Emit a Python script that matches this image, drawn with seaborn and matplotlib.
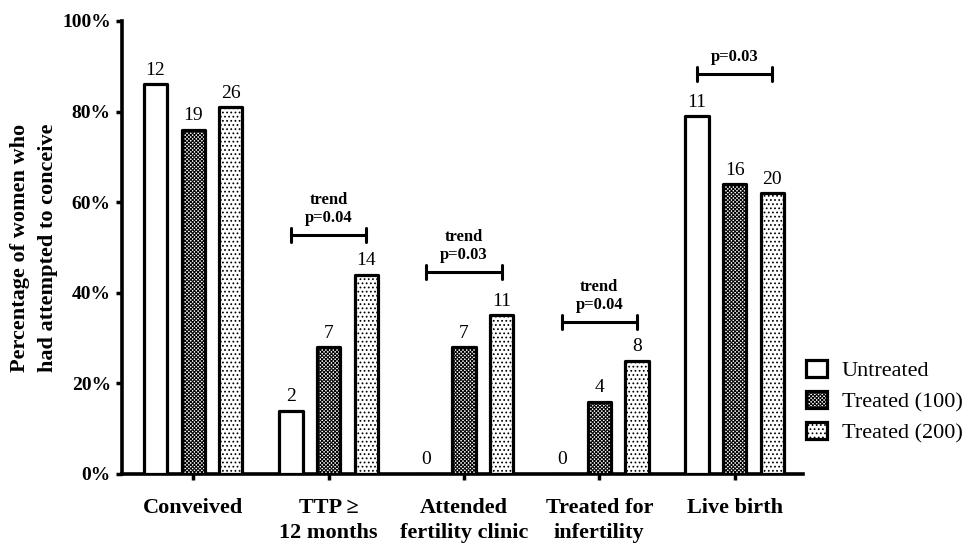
import numpy as np
import pandas as pd
import matplotlib
matplotlib.use("Agg")
import matplotlib.pyplot as plt
import seaborn as sns

# Outcome categories and treatment groups
categories = ["Conveived", "TTP \u2265\n12 months", "Attended\nfertility clinic",
              "Treated for\ninfertility", "Live birth"]
groups = ["Untreated", "Treated (100)", "Treated (200)"]

# Percentage of women in each group
pct_untreated = [86, 14, 0, 0, 79]
pct_treated100 = [76, 28, 28, 16, 64]
pct_treated200 = [81, 44, 35, 25, 62]

# Number of women behind each bar
n_untreated = [12, 2, 0, 0, 11]
n_treated100 = [19, 7, 7, 4, 16]
n_treated200 = [26, 14, 11, 8, 20]

# Significance annotations: (category index, text, bracket height in %)
sig_index = [1, 2, 3, 4]
sig_text = ["trend\np=0.04", "trend\np=0.03", "trend\np=0.04", "p=0.03"]
sig_height = [52.8, 44.6, 33.6, 88.3]

sns.set_theme(style="white")
plt.rcParams["font.family"] = ["Liberation Serif", "DejaVu Serif"]
plt.rcParams["hatch.linewidth"] = 0.75
for key in ("text.color", "axes.labelcolor", "xtick.color", "ytick.color"):
    plt.rcParams[key] = "black"

df = pd.DataFrame({
    "category": np.repeat(categories, 3),
    "group": groups * len(categories),
    "pct": np.ravel(np.column_stack([pct_untreated, pct_treated100, pct_treated200])),
})

fig = plt.figure(figsize=(9.65, 5.44), dpi=100)
ax = fig.add_axes([0.1264, 0.1287, 0.7056, 0.8327])

sns.barplot(data=df, x="category", y="pct", hue="group", order=categories,
            hue_order=groups, palette=["white"] * 3, width=0.834, gap=0.38,
            edgecolor="black", linewidth=2.3, legend=False, ax=ax,
            saturation=1, errorbar=None)

hatches = [None, "xxxxxxxxx", "...."]
counts = [n_untreated, n_treated100, n_treated200]
for cont, h, n in zip(ax.containers, hatches, counts):
    for p in cont:
        p.set_facecolor("white")
        p.set_edgecolor("black")
        p.set_linewidth(2.3)
        p.set_joinstyle("round")
        p.set_zorder(3)
        if h:
            p.set_hatch(h)
    ax.bar_label(cont, labels=[str(v) for v in n], padding=4, fontsize=14,
                 color="black")

# Significance brackets spanning untreated to Treated (200)
left_bars = ax.containers[0]
right_bars = ax.containers[2]
for idx, txt, yb in zip(sig_index, sig_text, sig_height):
    x0 = left_bars[idx].get_x() + left_bars[idx].get_width() / 2
    x1 = right_bars[idx].get_x() + right_bars[idx].get_width() / 2
    ax.plot([x0, x1], [yb, yb], color="black", lw=2.2, solid_capstyle="butt")
    for xe in (x0, x1):
        ax.plot([xe, xe], [yb - 1.5, yb + 1.5], color="black", lw=2.2)
    ax.text((x0 + x1) / 2, yb + 2.0, txt, ha="center", va="bottom",
            fontsize=12, fontweight="bold", linespacing=1.15, color="black")

ax.set_xlim(-0.526, 4.504)
ax.set_ylim(0, 100)
ax.set_yticks([0, 20, 40, 60, 80, 100])
ax.set_yticklabels(["0%", "20%", "40%", "60%", "80%", "100%"],
                   fontsize=14, fontweight="bold")
ax.set_xticks(range(len(categories)))
ax.set_xticklabels(categories, fontsize=16, fontweight="bold", linespacing=1.38)
ax.tick_params(axis="both", direction="out", length=4, width=2.5, colors="black",
               bottom=True, left=True)
ax.tick_params(axis="x", pad=13)
ax.tick_params(axis="y", pad=4)
ax.set_xlabel("")
ax.set_ylabel("Percentage of women who\nhad attempted to conceive",
              fontsize=16, fontweight="bold", labelpad=3, linespacing=1.55,
              color="black")

for side in ("top", "right"):
    ax.spines[side].set_visible(False)
for side in ("left", "bottom"):
    ax.spines[side].set_linewidth(2.6)
    ax.spines[side].set_color("black")

handles = [cont[0] for cont in ax.containers]
ax.legend(handles, groups, loc="center left", bbox_to_anchor=(1.005, 0.16),
          frameon=False, fontsize=16, handlelength=0.95, handleheight=0.8,
          handletextpad=0.65, labelspacing=0.45, borderaxespad=0, borderpad=0,
          labelcolor="black")

fig.savefig("out.png", dpi=100)
